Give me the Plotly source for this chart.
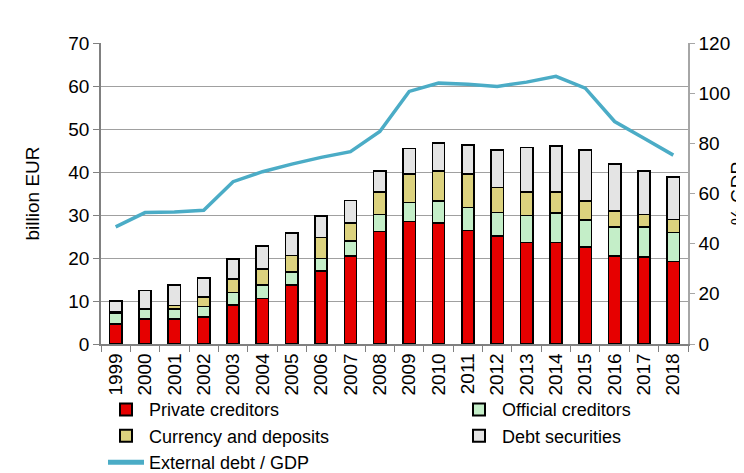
import plotly.graph_objects as go

years = [str(y) for y in range(1999, 2019)]

private_creditors = [4.6, 5.8, 5.8, 6.3, 9.1, 10.6, 13.7, 17.0, 20.5, 26.2,
                     28.5, 28.2, 26.4, 25.1, 23.6, 23.6, 22.6, 20.5, 20.2, 19.2]
official_creditors = [2.6, 2.3, 2.3, 2.4, 2.9, 3.1, 3.1, 2.9, 3.5, 3.9,
                      4.4, 5.1, 5.3, 5.5, 6.3, 6.9, 6.3, 6.7, 7.0, 6.7]
currency_deposits = [0.3, 0.2, 0.9, 2.3, 3.1, 3.7, 3.8, 4.9, 4.2, 5.2,
                     6.7, 7.0, 7.9, 5.8, 5.5, 4.9, 4.4, 3.7, 2.9, 3.1]
debt_securities = [2.5, 4.1, 4.7, 4.3, 4.6, 5.4, 5.2, 4.9, 5.2, 5.0,
                   5.9, 6.4, 6.7, 8.7, 10.3, 10.7, 11.8, 10.9, 10.1, 9.9]
external_debt_gdp = [46.7, 52.4, 52.6, 53.3, 64.7, 68.7, 71.7, 74.4, 76.7, 84.7,
                     100.7, 104.0, 103.6, 102.7, 104.4, 106.7, 102.0, 88.7, 82.0, 75.3]

FONT = "Liberation Sans, Arial, sans-serif"

fig = go.Figure()
bar_specs = [
    ("Private creditors", private_creditors, "#E60000", "legend", 1),
    ("Official creditors", official_creditors, "#C4EEC8", "legend2", 1),
    ("Currency and deposits", currency_deposits, "#DCD27E", "legend", 2),
    ("Debt securities", debt_securities, "#E4E4E4", "legend2", 2),
]
for name, vals, col, lg, rank in bar_specs:
    fig.add_trace(go.Bar(
        x=years, y=vals, name=name,
        marker=dict(color=col, line=dict(color="black", width=1.6)),
        yaxis="y", legend=lg, legendrank=rank,
    ))

fig.add_trace(go.Scatter(
    x=years, y=external_debt_gdp, name="External debt / GDP",
    mode="lines", line=dict(color="#4BACC6", width=3.5),
    yaxis="y2", legend="legend", legendrank=3,
))

legend_common = dict(
    orientation="v", yanchor="top", xanchor="left",
    itemwidth=36, font=dict(size=18), traceorder="normal",
    tracegroupgap=0, itemsizing="constant", bgcolor="rgba(0,0,0,0)",
)

fig.update_layout(
    width=744, height=473,
    margin=dict(l=93, r=64, t=35, b=137, autoexpand=False),
    paper_bgcolor="white", plot_bgcolor="white",
    barmode="stack", bargap=0.58,
    font=dict(family=FONT, size=19, color="black"),
    showlegend=True,
    legend=dict(x=0.0034, y=-0.157, **legend_common),
    legend2=dict(x=0.6048, y=-0.157, **legend_common),
    xaxis=dict(
        type="category", tickangle=-90,
        showline=True, linecolor="#808080", linewidth=1.5,
        ticks="outside", tickson="boundaries", ticklen=6, tickcolor="#808080",
        tickfont=dict(size=19),
        showgrid=False,
    ),
    yaxis=dict(
        range=[0, 70], dtick=10,
        showline=True, linecolor="#808080", linewidth=1.5,
        ticks="outside", ticklen=6, tickcolor="#808080",
        showgrid=True, gridcolor="#A0A0A0", gridwidth=1,
        zeroline=False,
        title=dict(text="billion EUR", standoff=24, font=dict(size=19)),
        tickfont=dict(size=19),
    ),
    yaxis2=dict(
        range=[0, 120], dtick=20, overlaying="y", side="right",
        showline=True, linecolor="#A6A6A6", linewidth=1.5,
        ticks="outside", ticklen=5, tickcolor="#A6A6A6",
        showgrid=False, zeroline=False,
        title=dict(text="% GDP", standoff=1, font=dict(size=19)),
        tickfont=dict(size=19),
    ),
)

fig.write_html("out.html")
